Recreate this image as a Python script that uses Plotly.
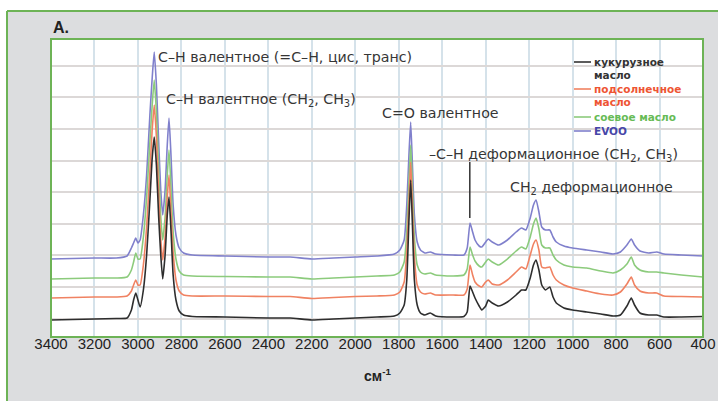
import plotly.graph_objects as go

# wavenumber axis (cm-1)
wavenumber = [3400, 3300, 3200, 3100, 3050, 3030, 3020, 3010, 3000, 2990, 2975, 2960, 2945, 2935,
              2925, 2915, 2905, 2895, 2886, 2875, 2865, 2857, 2848, 2838, 2825, 2810, 2790, 2750,
              2600, 2400, 2300, 2200, 2100, 2000, 1900, 1820, 1795, 1775, 1763, 1753, 1745, 1737,
              1728, 1715, 1700, 1680, 1655, 1630, 1550, 1500, 1485, 1472, 1460, 1449, 1430, 1418,
              1400, 1388, 1370, 1340, 1300, 1260, 1235, 1215, 1195, 1180, 1168, 1155, 1142, 1125,
              1105, 1090, 1075, 1040, 1000, 935, 870, 814, 780, 750, 730, 715, 690, 650, 613, 580,
              500, 400]

# intensities (arbitrary units, stacked with offsets)
corn = [17, 17.5, 18, 18.5, 19, 27, 37, 44, 37, 30, 47, 82, 137, 177,
        200, 172, 122, 82, 58, 82, 122, 140, 107, 62, 37, 26, 22, 20.5,
        20, 19, 19, 17, 18, 19, 20, 21, 24, 32, 57, 117, 157, 112,
        57, 32, 24, 22, 24, 21, 20, 20.5, 25, 51, 45, 39, 31, 27,
        31, 37, 34, 31, 35, 42, 47, 47, 59, 72, 77, 67, 52, 47,
        50, 40, 34, 29, 27, 25, 23, 21, 22, 31, 39, 32, 24, 22, 22, 20,
        20, 20.5]

sunflower = [39, 39.5, 40, 40, 41, 46, 52, 57, 52, 52, 72, 110, 165, 205,
             232, 200, 145, 98, 77, 100, 140, 162, 125, 85, 57, 46, 42, 41,
             41, 40.5, 40.5, 38.5, 39.5, 40.5, 41, 42, 45, 55, 85, 135, 175, 130,
             80, 52, 45, 43, 44, 42, 42, 42, 48, 72, 62, 55, 51, 50,
             55, 57, 53, 52, 57, 65, 70, 68, 82, 93, 97, 87, 70, 69,
             70, 62, 57, 52, 49, 46, 43, 42, 45, 53, 60, 52, 46, 44, 44, 41,
             40.5, 40]

soy = [58, 58.5, 59, 59, 60, 67, 75, 84, 78, 78, 100, 140, 195, 230,
       257, 225, 170, 120, 97, 120, 162, 187, 150, 105, 78, 66, 62, 61,
       60.5, 60, 60, 58, 59, 60, 61, 62, 65, 75, 105, 155, 192, 150,
       100, 72, 65, 63, 64, 62, 61, 62, 68, 90, 82, 76, 71, 70,
       75, 78, 75, 72, 78, 86, 90, 88, 100, 113, 119, 108, 92, 89,
       89, 82, 77, 72, 70, 69, 66, 64, 67, 73, 80, 72, 67, 65, 65, 64,
       62, 60]

evoo = [78, 78.5, 79, 79, 81, 89, 94, 99, 94, 97, 122, 162, 222, 257,
        285, 252, 197, 147, 122, 147, 192, 219, 182, 132, 102, 89, 84, 82,
        81, 80, 80, 78, 79, 80, 81, 83, 87, 97, 132, 182, 215, 172,
        122, 95, 87, 84, 85, 83, 82, 82, 89, 114, 105, 97, 91, 90,
        95, 98, 95, 92, 97, 105, 109, 107, 119, 132, 137, 125, 110, 107,
        107, 100, 95, 91, 89, 87, 85, 83, 85, 92, 98, 92, 86, 84, 85, 83,
        82, 81]

series_names = ["кукурузное<br>масло", "подсолнечное<br>масло", "соевое масло", "EVOO"]
line_colors = ["#2e2e2e", "#f08262", "#8ccb7c", "#8080cc"]
legend_text_colors = ["#333333", "#ee5533", "#66bb55", "#4646a8"]
x_ticks = [3400, 3200, 3000, 2800, 2600, 2400, 2200, 2000, 1800, 1600, 1400, 1200, 1000, 800, 600, 400]

W, H = 718, 401
ML, MR, MT, MB = 51, 15, 39, 64
PW, PH = W - ML - MR, H - MT - MB
GREEN = "#6db356"


def px(xpix):
    return (xpix - ML) / PW


def py(ypix):
    return (H - MB - ypix) / PH


fig = go.Figure()
data = [corn, sunflower, soy, evoo]
for i in [3, 2, 1, 0]:
    fig.add_trace(go.Scatter(x=wavenumber, y=data[i], mode="lines",
                             line=dict(color=line_colors[i], width=1.6, shape="spline", smoothing=0.5),
                             name=series_names[i], showlegend=False, hoverinfo="skip"))

font_main = "Liberation Sans, Arial, sans-serif"
font_wide = "DejaVu Sans, sans-serif"
label_color = "#363636"
annotations = [
    dict(x=2915, y=280, text="C–H валентное (=C–H, цис, транс)"),
    dict(x=2880, y=237, text="C–H валентное (CH<sub>2</sub>, CH<sub>3</sub>)"),
    dict(x=1885, y=224, text="C=O валентное"),
    dict(x=1668, y=182, text="–C–H деформационное (CH<sub>2</sub>, CH<sub>3</sub>)"),
    dict(x=1296, y=149, text="CH<sub>2</sub> деформационное"),
]
ann = []
for a in annotations:
    ann.append(dict(x=a["x"], y=a["y"], xref="x", yref="y", text=a["text"], showarrow=False,
                    xanchor="left", yanchor="middle", font=dict(family=font_wide, size=14.2, color=label_color)))

# legend (manual)
legend_rows = [(62, 0, "кукурузное"), (75, None, "масло"), (89, 1, "подсолнечное"), (102, None, "масло"),
               (117, 2, "соевое масло"), (131, 3, "EVOO")]
shapes = []
cur = 0
for ypix, idx, txt in legend_rows:
    if idx is not None:
        cur = idx
        shapes.append(dict(type="line", xref="paper", yref="paper", x0=px(574), x1=px(591), y0=py(ypix), y1=py(ypix),
                           line=dict(color=line_colors[idx] if idx != 0 else "#333333", width=1.6)))
    ann.append(dict(x=px(592), y=py(ypix), xref="paper", yref="paper", text="<b>" + txt + "</b>", showarrow=False,
                    xanchor="left", yanchor="middle",
                    font=dict(family=font_wide, size=10.5, color=legend_text_colors[cur])))

# panel letter and axis title
ann.append(dict(x=px(51), y=py(27), xref="paper", yref="paper", text="<b>A.</b>", showarrow=False,
                xanchor="left", yanchor="middle", font=dict(family=font_main, size=16, color="#222222")))
ann.append(dict(x=0.5, y=py(375), xref="paper", yref="paper", text="<b>см<sup>-1</sup></b>", showarrow=False,
                xanchor="center", yanchor="middle", font=dict(family=font_main, size=14, color="#222222")))

# marker line at 1473
shapes.append(dict(type="line", xref="x", yref="y", x0=1473, x1=1473, y0=119, y1=175,
                   line=dict(color="#333333", width=1.5)))

# outer frame: white strips top/left, green border lines, plot border
shapes += [
    dict(type="rect", xref="paper", yref="paper", x0=-0.2, x1=1.2, y0=py(11), y1=1.3,
         fillcolor="white", line=dict(width=0), layer="below"),
    dict(type="rect", xref="paper", yref="paper", x0=-0.2, x1=px(7), y0=-0.5, y1=1.3,
         fillcolor="white", line=dict(width=0), layer="below"),
    dict(type="line", xref="paper", yref="paper", x0=px(7), x1=1.2, y0=py(11), y1=py(11),
         line=dict(color=GREEN, width=2)),
    dict(type="line", xref="paper", yref="paper", x0=px(7), x1=px(7), y0=-0.5, y1=py(11),
         line=dict(color=GREEN, width=2)),
    dict(type="rect", xref="paper", yref="paper", x0=0, x1=1, y0=0, y1=1,
         line=dict(color=GREEN, width=2), fillcolor="rgba(0,0,0,0)"),
]

fig.update_layout(
    width=W, height=H,
    margin=dict(l=ML, r=MR, t=MT, b=MB),
    paper_bgcolor="#dcdddf",
    plot_bgcolor="white",
    showlegend=False,
    annotations=ann,
    shapes=shapes,
    xaxis=dict(range=[3400, 400], tickvals=x_ticks, ticktext=[str(v) for v in x_ticks],
               automargin=False, anchor="free", position=4 / PH,
               showgrid=True, gridcolor="#d5e2ea", gridwidth=1.5, zeroline=False,
               showline=False, ticks="", tickfont=dict(family=font_main, size=15, color="#222222")),
    yaxis=dict(range=[0, PH], tick0=18.5, dtick=31.6, showticklabels=False, automargin=False,
               showgrid=True, gridcolor="#dcd8d7", gridwidth=1.5, zeroline=False,
               showline=False, ticks=""),
)

fig.write_html("out.html")
